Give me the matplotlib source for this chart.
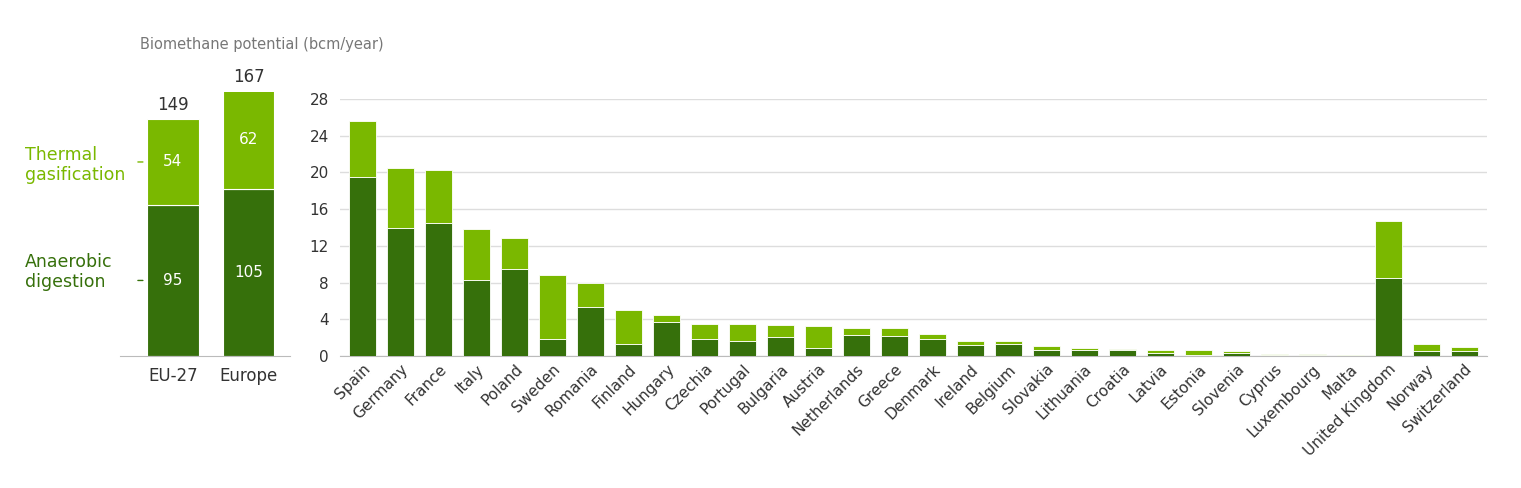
import matplotlib
matplotlib.use("Agg")
import matplotlib.pyplot as plt

countries = ["Spain","Germany","France","Italy","Poland","Sweden","Romania","Finland","Hungary","Czechia",
             "Portugal","Bulgaria","Austria","Netherlands","Greece","Denmark","Ireland","Belgium","Slovakia",
             "Lithuania","Croatia","Latvia","Estonia","Slovenia","Cyprus","Luxembourg","Malta",
             "United Kingdom","Norway","Switzerland"]
anaerobic = [19.5,13.9,14.5,8.3,9.5,1.9,5.3,1.3,3.7,1.9,1.6,2.1,0.9,2.3,2.2,1.9,1.2,1.3,0.6,0.6,0.6,0.3,0.1,0.3,0.15,0.15,0.05,8.5,0.5,0.5]
total = [25.6,20.5,20.3,13.8,12.9,8.8,8.0,5.0,4.5,3.5,3.5,3.4,3.3,3.1,3.0,2.4,1.6,1.6,1.1,0.9,0.8,0.7,0.6,0.5,0.2,0.2,0.08,14.7,1.3,1.0]
thermal = [t - a for t, a in zip(total, anaerobic)]
yticks = [0,4,8,12,16,20,24,28]

agg_labels = ["EU-27","Europe"]
agg_ad = [95,105]
agg_tg = [54,62]

DARK = "#36700b"
LIGHT = "#7ab800"
GREY = "#555555"

W, H = 1521, 488
fig = plt.figure(figsize=(W/100, H/100), dpi=100)

# left axes
axl = fig.add_axes([120/W, (H-356)/H, 170/W, 264/H])
xl = [0, 1]
axl.bar(xl, agg_ad, width=0.68, color=DARK, edgecolor="white", linewidth=0.8)
axl.bar(xl, agg_tg, bottom=agg_ad, width=0.68, color=LIGHT, edgecolor="white", linewidth=0.8)
for i in xl:
    axl.text(i, agg_ad[i]/2, str(agg_ad[i]), ha="center", va="center", color="white", fontsize=11)
    axl.text(i, agg_ad[i]+agg_tg[i]/2, str(agg_tg[i]), ha="center", va="center", color="white", fontsize=11)
    axl.text(i, agg_ad[i]+agg_tg[i]+3, str(agg_ad[i]+agg_tg[i]), ha="center", va="bottom", color="#333333", fontsize=12)
axl.set_xlim(-0.7, 1.55)
axl.set_ylim(0, 166)
axl.set_xticks(xl)
axl.set_xticklabels(agg_labels, fontsize=12, color="#333333")
axl.tick_params(axis="x", length=0, pad=8)
axl.set_yticks([])
for s in ["top","right","left"]:
    axl.spines[s].set_visible(False)
axl.spines["bottom"].set_color("#bbbbbb")
fig.text(25/W, 1-165/H, "Thermal\ngasification", color=LIGHT, fontsize=12.5, va="center", linespacing=1.2)
fig.text(25/W, 1-272/H, "Anaerobic\ndigestion", color=DARK, fontsize=12.5, va="center", linespacing=1.2)
axl.annotate("", xy=(-0.36, agg_ad[0]+agg_tg[0]/2), xytext=(-0.5, agg_ad[0]+agg_tg[0]/2),
             arrowprops=dict(arrowstyle="-", color=LIGHT, lw=1))
axl.annotate("", xy=(-0.36, agg_ad[0]/2), xytext=(-0.5, agg_ad[0]/2),
             arrowprops=dict(arrowstyle="-", color=DARK, lw=1))

fig.text(140/W, 1-45/H, "Biomethane potential (bcm/year)", color="#777777", fontsize=10.5, va="center")

# right axes
ax = fig.add_axes([340/W, (H-356)/H, 1147/W, 257/H])
x = list(range(len(countries)))
ax.bar(x, anaerobic, width=0.7, color=DARK, edgecolor="white", linewidth=0.6, zorder=3)
ax.bar(x, thermal, bottom=anaerobic, width=0.7, color=LIGHT, edgecolor="white", linewidth=0.6, zorder=3)
ax.set_xlim(-0.6, len(countries)-0.4)
ax.set_ylim(0, 28)
ax.set_yticks(yticks)
ax.tick_params(axis="y", length=0, labelsize=11, labelcolor="#333333", pad=8)
ax.grid(axis="y", color="#dddddd", lw=1, zorder=0)
ax.set_xticks(x)
ax.set_xticklabels(countries, rotation=45, ha="right", rotation_mode="anchor", fontsize=11, color="#333333")
ax.tick_params(axis="x", length=0, pad=4)
for s in ["top","right","left"]:
    ax.spines[s].set_visible(False)
ax.spines["bottom"].set_color("#bbbbbb")

fig.savefig("out.png", dpi=100)
